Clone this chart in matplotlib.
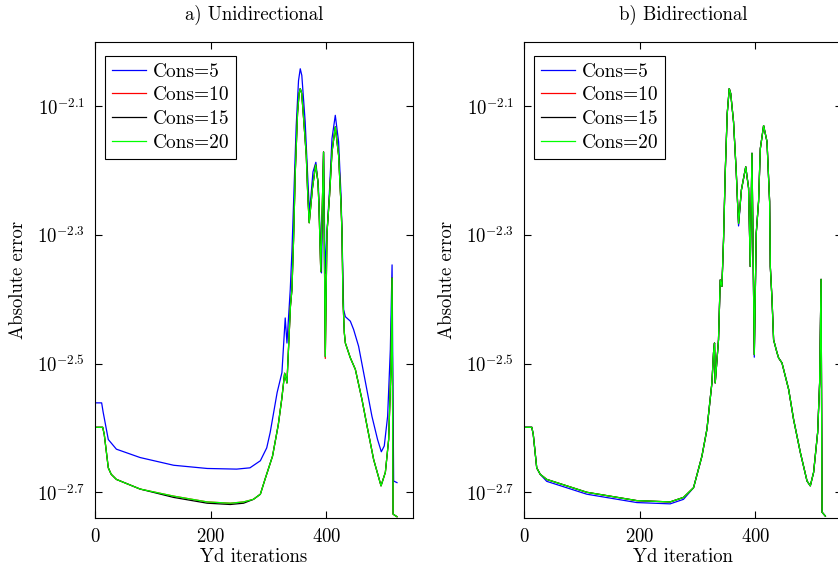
import numpy as np
import matplotlib
matplotlib.use('Agg')
import matplotlib.pyplot as plt
from matplotlib.ticker import FixedLocator, FixedFormatter, NullLocator

plt.rcParams['font.family'] = 'serif'
plt.rcParams['font.serif'] = ['cmr10']
plt.rcParams['mathtext.fontset'] = 'cm'
plt.rcParams['axes.unicode_minus'] = False
plt.rcParams['axes.formatter.use_mathtext'] = True

# ---- a) Unidirectional (log10 of absolute error) ----
xg_a = [0, 13.3, 16, 23, 28, 37, 78, 136, 194, 234, 257, 274, 286, 294, 307, 317, 323, 328, 332,
        338, 340.6, 343.4, 346.3, 350.3, 353, 355, 357.5, 360, 365.4, 368, 370.5, 376, 381.6,
        385.6, 387.3, 390.5, 395.3, 398.3, 401.2, 405.7, 409.9, 415.6, 421.3, 425.5, 427.2,
        428.9, 431.2, 433, 441.6, 450.3, 461.8, 470.5, 481.9, 494.7, 502.2, 507.9, 512, 513.8,
        515.5, 522.3]
lg_a = [-2.599, -2.599, -2.61, -2.662, -2.672, -2.680, -2.695, -2.706, -2.715, -2.717, -2.715,
        -2.711, -2.703, -2.680, -2.644, -2.595, -2.555, -2.515, -2.530, -2.411, -2.385, -2.308,
        -2.204, -2.111, -2.08, -2.0725, -2.08, -2.109, -2.176, -2.238, -2.281, -2.228, -2.191,
        -2.217, -2.253, -2.357, -2.171, -2.489, -2.297, -2.238, -2.171, -2.132, -2.176, -2.253,
        -2.297, -2.401, -2.452, -2.468, -2.491, -2.509, -2.556, -2.597, -2.649, -2.690, -2.669,
        -2.618, -2.504, -2.367, -2.734, -2.738]

xb_a = [0, 11.5, 14, 23, 37, 78, 136, 194, 245, 268, 286, 297, 303, 309, 315, 323.3, 329, 332,
        337.7, 340.6, 344.6, 348, 352, 355, 357.7, 363.5, 367.5, 371, 377, 382, 386.5, 391.7,
        395.3, 398, 401.2, 405.7, 409.9, 415.6, 421.3, 425.5, 427.2, 430, 433, 441.6, 447.3,
        455.9, 464.6, 479, 488.7, 495.2, 500.3, 506.1, 510.8, 513.8, 516.5, 522.3]
lb_a = [-2.561, -2.561, -2.575, -2.618, -2.633, -2.646, -2.658, -2.663, -2.664, -2.662, -2.651,
        -2.631, -2.607, -2.576, -2.545, -2.514, -2.429, -2.468, -2.385, -2.326, -2.219, -2.13,
        -2.06, -2.0416, -2.052, -2.124, -2.202, -2.266, -2.202, -2.187, -2.227, -2.359, -2.171,
        -2.36, -2.297, -2.228, -2.150, -2.114, -2.155, -2.238, -2.297, -2.416, -2.427, -2.434,
        -2.447, -2.473, -2.514, -2.582, -2.618, -2.637, -2.628, -2.582, -2.478, -2.3465,
        -2.6825, -2.685]

lr_a = list(lg_a)
lr_a[37] = -2.492
lk_a = list(lg_a)
lk_a[7:11] = [-2.708, -2.717, -2.719, -2.717]

# ---- b) Bidirectional ----
xg_b = [0, 13.5, 16, 22, 28, 39.3, 108.6, 195.2, 252.8, 275.8, 293.2, 307.7, 316.4, 325, 327.8,
        329.5, 330.7, 336.4, 339.4, 342.3, 345.1, 348, 351.5, 355, 357.5, 362.4, 367.1, 369.3,
        371.1, 376, 383.5, 388.4, 391.3, 394.3, 398.3, 401.7, 405.7, 408.7, 414.4, 420.3, 424.8,
        426, 429, 431.7, 437.6, 440.3, 446.2, 449, 457.7, 466.3, 477.9, 489.5, 495.2, 500.9,
        507.9, 511.3, 513.8, 515.5, 521.2]
lg_b = [-2.599, -2.599, -2.61, -2.662, -2.672, -2.680, -2.700, -2.713, -2.715, -2.708, -2.693,
        -2.644, -2.602, -2.530, -2.483, -2.468, -2.530, -2.463, -2.370, -2.380, -2.308, -2.204,
        -2.111, -2.0725, -2.08, -2.124, -2.202, -2.248, -2.282, -2.23, -2.194, -2.227, -2.349,
        -2.173, -2.486, -2.297, -2.248, -2.166, -2.130, -2.155, -2.248, -2.349, -2.401, -2.463,
        -2.483, -2.491, -2.499, -2.509, -2.540, -2.587, -2.638, -2.6825, -2.690, -2.669, -2.607,
        -2.530, -2.369, -2.731, -2.737]
lb_b = list(lg_b)
lb_b[5:10] = [-2.683, -2.703, -2.716, -2.718, -2.711]
lb_b[28] = -2.286
lb_b[34] = -2.490

labels = ['Cons=5', 'Cons=10', 'Cons=15', 'Cons=20']
colors = ['blue', 'red', 'black', '#00ff00']

yticks = [-2.7, -2.5, -2.3, -2.1]
ytick_labels = [r'$10^{-2.7}$', r'$10^{-2.5}$', r'$10^{-2.3}$', r'$10^{-2.1}$']

fig = plt.figure(figsize=(8.38, 5.7), dpi=100)
W, H = 838, 570
ax1 = fig.add_axes([95 / W, 52 / H, 318 / W, 476 / H])
ax2 = fig.add_axes([524 / W, 52 / H, 318 / W, 476 / H])

series_a = [(xb_a, lb_a), (xg_a, lr_a), (xg_a, lk_a), (xg_a, lg_a)]
series_b = [(xg_b, lb_b), (xg_b, lg_b), (xg_b, lg_b), (xg_b, lg_b)]

for ax, series, title, xlab in [(ax1, series_a, 'a) Unidirectional', 'Yd iterations'),
                                 (ax2, series_b, 'b) Bidirectional', 'Yd iteration')]:
    for (xs, ls), c, lab in zip(series, colors, labels):
        ax.plot(xs, 10 ** np.array(ls), color=c, lw=0.9, label=lab)
    ax.set_yscale('log')
    ax.set_xlim(0, 550)
    ax.set_ylim(10 ** -2.74, 10 ** -2.0)
    ax.yaxis.set_major_locator(FixedLocator([10 ** v for v in yticks]))
    ax.yaxis.set_major_formatter(FixedFormatter(ytick_labels))
    ax.yaxis.set_minor_locator(NullLocator())
    ax.set_xticks([0, 200, 400])
    ax.tick_params(direction='in', top=True, right=True, length=5, width=0.8,
                   labelsize=13.5, pad=7)
    for s in ax.spines.values():
        s.set_linewidth(0.8)
    ax.set_xlabel(xlab, fontsize=13.5)
    ax.set_ylabel('Absolute error', fontsize=13.5)
    ax.xaxis.set_label_coords(0.5, -0.064)
    ax.yaxis.set_label_coords(-0.215, 0.5)
    ax.text(0.5, 1.057, title, transform=ax.transAxes, ha='center', va='center', fontsize=13.5)
    leg = ax.legend(loc='upper left', bbox_to_anchor=(0.031, 0.971), fontsize=14,
                    fancybox=False, framealpha=1, edgecolor='black', handlelength=1.75,
                    borderpad=0.35, labelspacing=0.3, handletextpad=0.35, borderaxespad=0)
    leg.get_frame().set_linewidth(0.8)

fig.savefig('out.png', dpi=100)
